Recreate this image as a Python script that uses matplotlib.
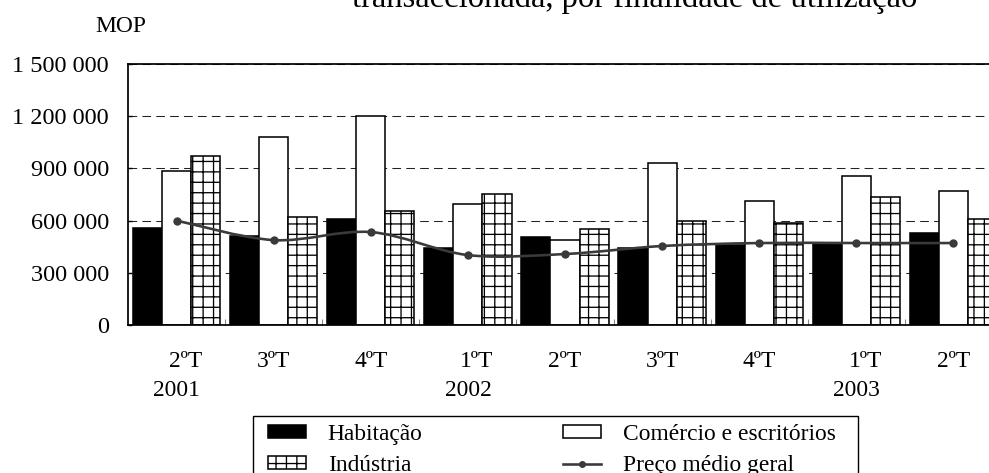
import numpy as np
import matplotlib
matplotlib.use('Agg')
import matplotlib.pyplot as plt
from matplotlib.path import Path
from matplotlib.patches import PathPatch, Patch, Rectangle
from matplotlib.lines import Line2D
import matplotlib.transforms as mtransforms

# quarterly values (MOP)
quarters = ['2ºT', '3ºT', '4ºT', '1ºT', '2ºT', '3ºT', '4ºT', '1ºT', '2ºT']
years = ['2001', '', '', '2002', '', '', '', '2003', '']
habitacao = [559000, 511000, 609000, 444000, 506000, 441000, 460000, 468000, 527000]
comercio = [883000, 1080000, 1200000, 695000, 487000, 929000, 713000, 858000, 768000]
industria = [971000, 622000, 655000, 755000, 552000, 596000, 586000, 734000, 607000]
preco = [600000, 488000, 534000, 402000, 408000, 454000, 471000, 471000, 471000]
yticks = [0, 300000, 600000, 900000, 1200000, 1500000]

plt.rcParams['font.family'] = ['Liberation Serif', 'DejaVu Serif']
plt.rcParams['hatch.linewidth'] = 0.75
plt.rcParams['lines.scale_dashes'] = False

DPI = 125
W, H = 989, 473
fig = plt.figure(figsize=(W / DPI, H / DPI), dpi=DPI)
# axes runs past the right edge of the picture, like the cropped original
ax = fig.add_axes([128 / W, 1 - 325 / H, 874 / W, 261 / H])

x = np.arange(len(quarters))
bw = 0.3
ax.bar(x - bw, habitacao, bw, color='black', edgecolor='black', linewidth=0.9, zorder=2)
ax.bar(x, comercio, bw, color='white', edgecolor='black', linewidth=0.9, zorder=2)
ax.bar(x + bw, industria, bw, color='white', edgecolor='black', hatch='++',
       linewidth=0.9, zorder=2)

# smoothed line for the average price (bezier through the points)
pts = np.column_stack([x, preco]).astype(float)
verts = [pts[0]]
codes = [Path.MOVETO]
n = len(pts)
for i in range(n - 1):
    p0 = pts[max(i - 1, 0)]
    p1 = pts[i]
    p2 = pts[i + 1]
    p3 = pts[min(i + 2, n - 1)]
    verts += [p1 + (p2 - p0) / 6, p2 - (p3 - p1) / 6, p2]
    codes += [Path.CURVE4] * 3
ax.add_patch(PathPatch(Path(verts, codes), facecolor='none', edgecolor='#3a3a3a',
                       linewidth=1.5, zorder=4, transform=ax.transData))
ax.plot(x, preco, linestyle='none', marker='o', markersize=3.8, color='#3a3a3a', zorder=5)

ax.set_xlim(-0.5, 8.5)
ax.set_ylim(0, 1500000)
ax.set_yticks(yticks)
ax.set_yticklabels(['{:,}'.format(v).replace(',', ' ') for v in yticks], fontsize=14)
ax.yaxis.grid(True, color='#222222', linestyle=(0, (5, 3)), linewidth=0.6, zorder=0)
ax.set_axisbelow(True)
ax.tick_params(axis='y', direction='in', length=2.5, width=0.8, pad=11)

ax.set_xticks([])
ax.set_xticks(np.arange(0.5, 8.5, 1), minor=True)
ax.tick_params(axis='x', which='minor', direction='in', length=3.5, width=0.6,
               color='#888888', labelbottom=False)

for s in ['left', 'bottom', 'top']:
    ax.spines[s].set_linewidth(1.0)
ax.spines['right'].set_visible(False)

# two-level category labels
for i, (q, yr) in enumerate(zip(quarters, years)):
    off = mtransforms.ScaledTranslation(9 / DPI if yr else 0, 0, fig.dpi_scale_trans)
    ax.text(i, -42 / 261, q, transform=ax.get_xaxis_transform() + off,
            ha='center', va='baseline', fontsize=13.5)
    if yr:
        ax.text(i, -71 / 261, yr, transform=ax.get_xaxis_transform(),
                ha='center', va='baseline', fontsize=13.5)

fig.text(121 / W, 1 - 32 / H, 'MOP', ha='center', va='baseline', fontsize=13.5)
fig.text(352 / W, 1 - 7 / H, 'transaccionada, por finalidade de utilização',
         ha='left', va='baseline', fontsize=18.8)

# legend box (bottom edge is cut off in the original)
fig.patches.append(Rectangle((253 / W, -0.05), (858 - 253) / W, (1 - 416 / H) + 0.05,
                             transform=fig.transFigure, facecolor='white',
                             edgecolor='black', linewidth=0.8, zorder=1))
handles = [Patch(facecolor='black', edgecolor='black', linewidth=0.9),
           Patch(facecolor='white', edgecolor='black', hatch='++', linewidth=0.9),
           Patch(facecolor='white', edgecolor='black', linewidth=0.9),
           Line2D([], [], color='#3a3a3a', linewidth=1.5, marker='o', markersize=3)]
labels = ['Habitação', 'Indústria', 'Comércio e escritórios', 'Preço médio geral']
leg = fig.legend(handles, labels, ncol=2, loc='upper left',
                 bbox_to_anchor=(268 / W, 1 - 424 / H), fontsize=13.5,
                 frameon=False, handlelength=1.6, handleheight=0.45,
                 handletextpad=0.95, columnspacing=6.0, labelspacing=0.42,
                 borderpad=0, borderaxespad=0)
leg.set_zorder(2)

fig.savefig('out.png', dpi=DPI)
